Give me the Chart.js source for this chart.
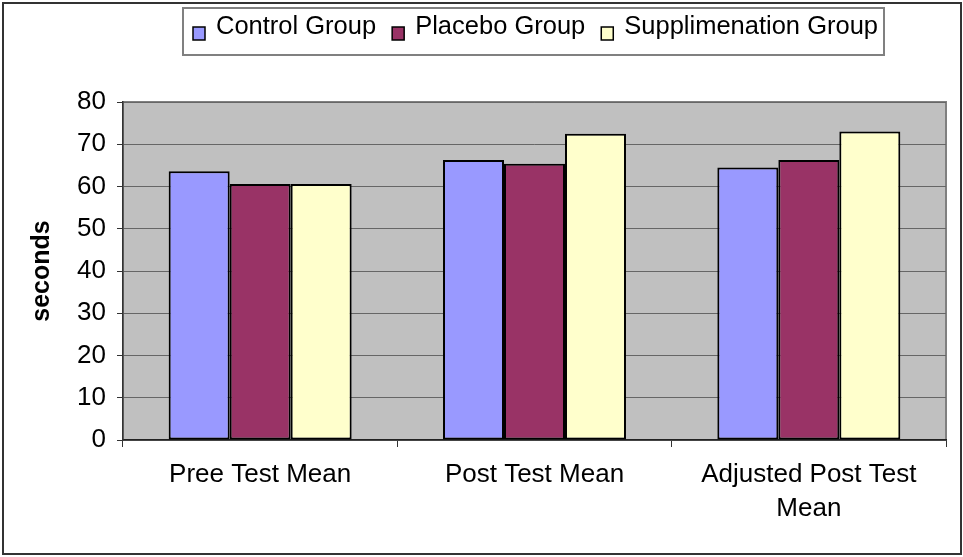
<!DOCTYPE html>
<html><head><meta charset="utf-8">
<script src="https://cdn.jsdelivr.net/npm/chart.js@4/dist/chart.umd.min.js"></script>
<style>html,body{margin:0;padding:0;background:#fff}#wrap{width:963px;height:557px}</style>
</head><body><div id="wrap"><canvas id="c" width="963" height="557"></canvas></div>
<script>
const categories = ["Pree Test Mean", "Post Test Mean", ["Adjusted Post Test", "Mean"]];
const seriesNames = ["Control Group", "Placebo Group", "Supplimenation Group"];
const controlValues = [63.6, 66.3, 64.5];
const placeboValues = [60.6, 65.4, 66.3];
const supplementValues = [60.6, 72.5, 73.0];
const seriesColors = ["#9999FF", "#993366", "#FFFFCC"];
const yTicks = [0, 10, 20, 30, 40, 50, 60, 70, 80];
const FONT = "'Liberation Sans', Arial, sans-serif";

const framePlugin = {
  id: 'frame',
  beforeDraw(chart) {
    const {ctx, chartArea: a} = chart;
    ctx.save();
    ctx.fillStyle = '#fff';
    ctx.fillRect(0, 0, chart.width, chart.height);
    ctx.fillStyle = '#C0C0C0';
    ctx.fillRect(a.left, a.top, a.right - a.left, a.bottom - a.top);
    ctx.strokeStyle = '#808080';
    ctx.lineWidth = 2;
    ctx.strokeRect(a.left, a.top, a.right - a.left, a.bottom - a.top);
    ctx.restore();
  },
  afterDraw(chart) {
    const ctx = chart.ctx;
    ctx.save();
    ctx.strokeStyle = '#333';
    ctx.lineWidth = 2;
    ctx.strokeRect(3, 3, 958, 551);
    ctx.strokeStyle = '#808080';
    ctx.lineWidth = 2;
    ctx.strokeRect(183, 8, 701, 47);
    ctx.font = '25.5px ' + FONT;
    ctx.textBaseline = 'middle';
    let x = 193;
    chart.data.datasets.forEach(ds => {
      ctx.fillStyle = ds.backgroundColor;
      ctx.fillRect(x, 27, 12, 13);
      ctx.strokeStyle = '#000';
      ctx.lineWidth = 1.5;
      ctx.strokeRect(x, 27, 12, 13);
      x += 23;
      ctx.fillStyle = '#000';
      ctx.fillText(ds.label, x, 27);
      x += ctx.measureText(ds.label).width + 16;
    });
    ctx.restore();
  }
};

new Chart(document.getElementById('c'), {
  type: 'bar',
  data: {
    labels: categories,
    datasets: [
      {label: seriesNames[0], data: controlValues, backgroundColor: seriesColors[0]},
      {label: seriesNames[1], data: placeboValues, backgroundColor: seriesColors[1]},
      {label: seriesNames[2], data: supplementValues, backgroundColor: seriesColors[2]}
    ].map(d => Object.assign(d, {borderColor: '#000', borderWidth: 2, borderSkipped: false,
        categoryPercentage: 0.667, barPercentage: 1}))
  },
  options: {
    responsive: false,
    animation: false,
    devicePixelRatio: 1,
    layout: {padding: {top: 102, right: 17, left: 0, bottom: 0}},
    plugins: {legend: {display: false}, tooltip: {enabled: false}},
    scales: {
      x: {
        offset: true,
        grid: {display: true, drawOnChartArea: false, tickLength: 7, color: '#333', offset: true},
        border: {display: true, color: '#222', width: 1.5},
        ticks: {font: {family: FONT, size: 26, lineHeight: 1.3}, color: '#000', padding: 11, maxRotation: 0, autoSkip: false},
        afterFit(s) { s.height = 117; }
      },
      y: {
        min: 0, max: 80,
        afterBuildTicks(s) { s.ticks = yTicks.map(v => ({value: v})); },
        grid: {color: '#666', lineWidth: 1, tickLength: 6, tickColor: '#333'},
        border: {display: true, color: '#333', width: 1.5},
        ticks: {font: {family: FONT, size: 26}, color: '#000', padding: 11},
        title: {display: true, text: 'seconds', font: {family: FONT, size: 25, weight: 'bold'}, color: '#000', padding: {top: 27, bottom: 0}},
        afterFit(s) { s.width = 123; }
      }
    }
  },
  plugins: [framePlugin]
});
</script></body></html>
